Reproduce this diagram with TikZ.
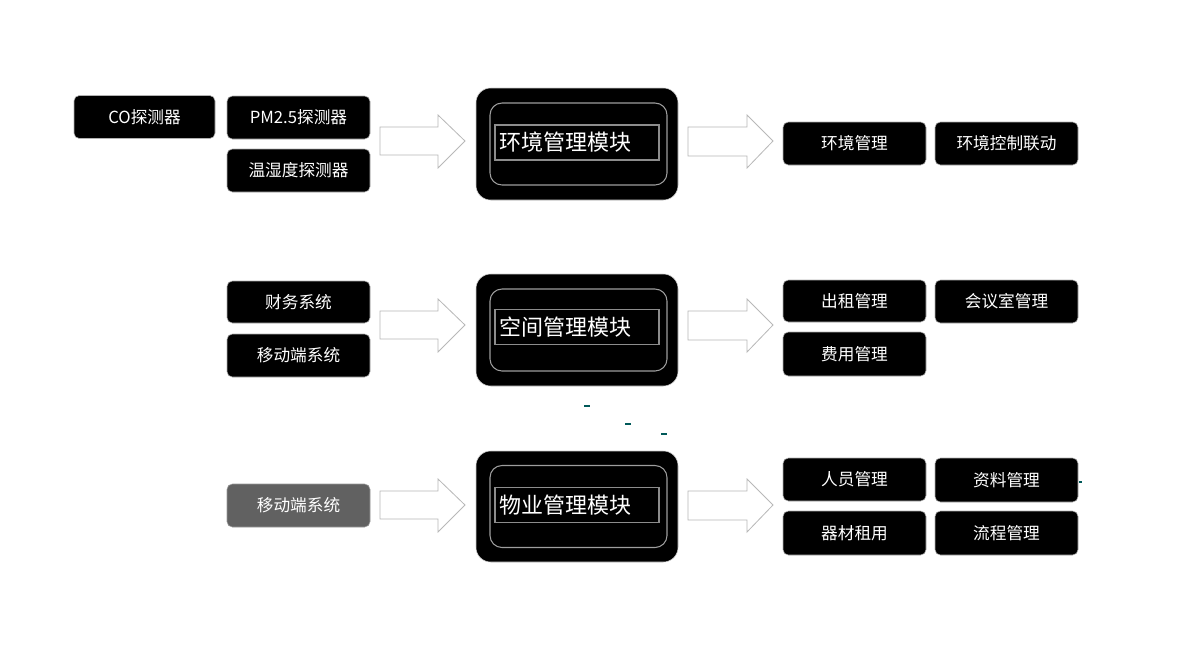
\documentclass[tikz,border=0pt]{standalone}
\usepackage{fontspec}
\newfontfamily\cjk{Noto Sans CJK SC}
\begin{document}
\begin{tikzpicture}[x=0.75pt,y=-0.75pt,
  sbox/.style={rectangle,rounded corners=4pt,fill=black,draw=black!30,line width=0.4pt,
    text=white,font=\cjk\fontsize{12.5pt}{14pt}\selectfont,
    minimum width=143*0.75pt,minimum height=43*0.75pt,inner sep=0pt},
  gbox/.style={sbox,fill=black!62,draw=black!40},
  modouter/.style={rectangle,rounded corners=11pt,fill=black,draw=black!20,line width=0.4pt,
    minimum width=202*0.75pt,minimum height=112*0.75pt,inner sep=0pt},
  modinner/.style={rectangle,rounded corners=9pt,draw=black!38,line width=0.8pt,
    minimum width=177*0.75pt,minimum height=82*0.75pt,inner sep=0pt},
  modtext/.style={rectangle,draw=black!45,line width=0.8pt,text=white,
    font=\cjk\fontsize{16.5pt}{18pt}\selectfont,
    text width=164*0.75pt-7pt,align=left,inner xsep=3.5pt,inner ysep=0pt,
    minimum height=35*0.75pt},
  blockarrow/.style={draw=black!28,fill=white,line width=0.6pt,line join=miter},
  stray/.style={draw=teal!70!black,line width=0.9pt}
]
\useasboundingbox[fill=white] (0,0) rectangle (1200,651);

% ---------- Row 1 ----------
\node[sbox,minimum width=141*0.75pt] (co) at (144.5,117) {CO探测器};
\node[sbox] (pm) at (298.5,117.5) {PM2.5探测器};
\node[sbox] (th) at (298.5,170.5) {温湿度探测器};
\draw[blockarrow] (380,127) -- (438,127) -- (438,115) -- (465,141) -- (438,168) -- (438,155) -- (380,155) -- cycle;
\node[modouter] (m1) at (577,144) {};
\node[modinner] (i1) at (578.5,144) {};
\node[modtext] (t1) at (577,142.5) {环境管理模块};
\draw[blockarrow] (688,127) -- (747,127) -- (747,115) -- (773,141) -- (747,168) -- (747,156) -- (688,156) -- cycle;
\node[sbox] (hj) at (854.5,143.5) {环境管理};
\node[sbox] (hk) at (1006.5,143.5) {环境控制联动};

% ---------- Row 2 ----------
\node[sbox,minimum height=42*0.75pt] (cw) at (298.5,302) {财务系统};
\node[sbox] (yd1) at (298.5,355.5) {移动端系统};
\draw[blockarrow] (380,311) -- (438,311) -- (438,299) -- (465,325) -- (438,352) -- (438,339) -- (380,339) -- cycle;
\node[modouter] (m2) at (577,330) {};
\node[modinner] (i2) at (578.5,330) {};
\node[modtext] (t2) at (577,327) {空间管理模块};
\draw[blockarrow] (688,311) -- (747,311) -- (747,299) -- (773,325) -- (747,352) -- (747,340) -- (688,340) -- cycle;
\node[sbox,minimum height=42*0.75pt] (cz) at (854.5,301) {出租管理};
\node[sbox] (hy) at (1006.5,301.5) {会议室管理};
\node[sbox,minimum height=44*0.75pt] (fy) at (854.5,354) {费用管理};

% stray marks
\draw[stray] (584,406) -- (590,406);
\draw[stray] (625,424) -- (631,424);
\draw[stray] (661,434) -- (667,434);
\draw[stray] (1079,482) -- (1082,482);

% ---------- Row 3 ----------
\node[gbox] (yd2) at (298.5,505.5) {移动端系统};
\draw[blockarrow] (380,491) -- (438,491) -- (438,479) -- (465,505) -- (438,532) -- (438,519) -- (380,519) -- cycle;
\node[modouter,minimum height=111*0.75pt] (m3) at (577,506.5) {};
\node[modinner] (i3) at (578.5,506.5) {};
\node[modtext] (t3) at (577,505) {物业管理模块};
\draw[blockarrow] (688,491) -- (747,491) -- (747,479) -- (773,505) -- (747,532) -- (747,520) -- (688,520) -- cycle;
\node[sbox] (ry) at (854.5,479.5) {人员管理};
\node[sbox,minimum height=44*0.75pt] (zl) at (1006.5,480) {资料管理};
\node[sbox,minimum height=44*0.75pt] (qc) at (854.5,533) {器材租用};
\node[sbox,minimum height=44*0.75pt] (lc) at (1006.5,533) {流程管理};
\end{tikzpicture}
\end{document}
